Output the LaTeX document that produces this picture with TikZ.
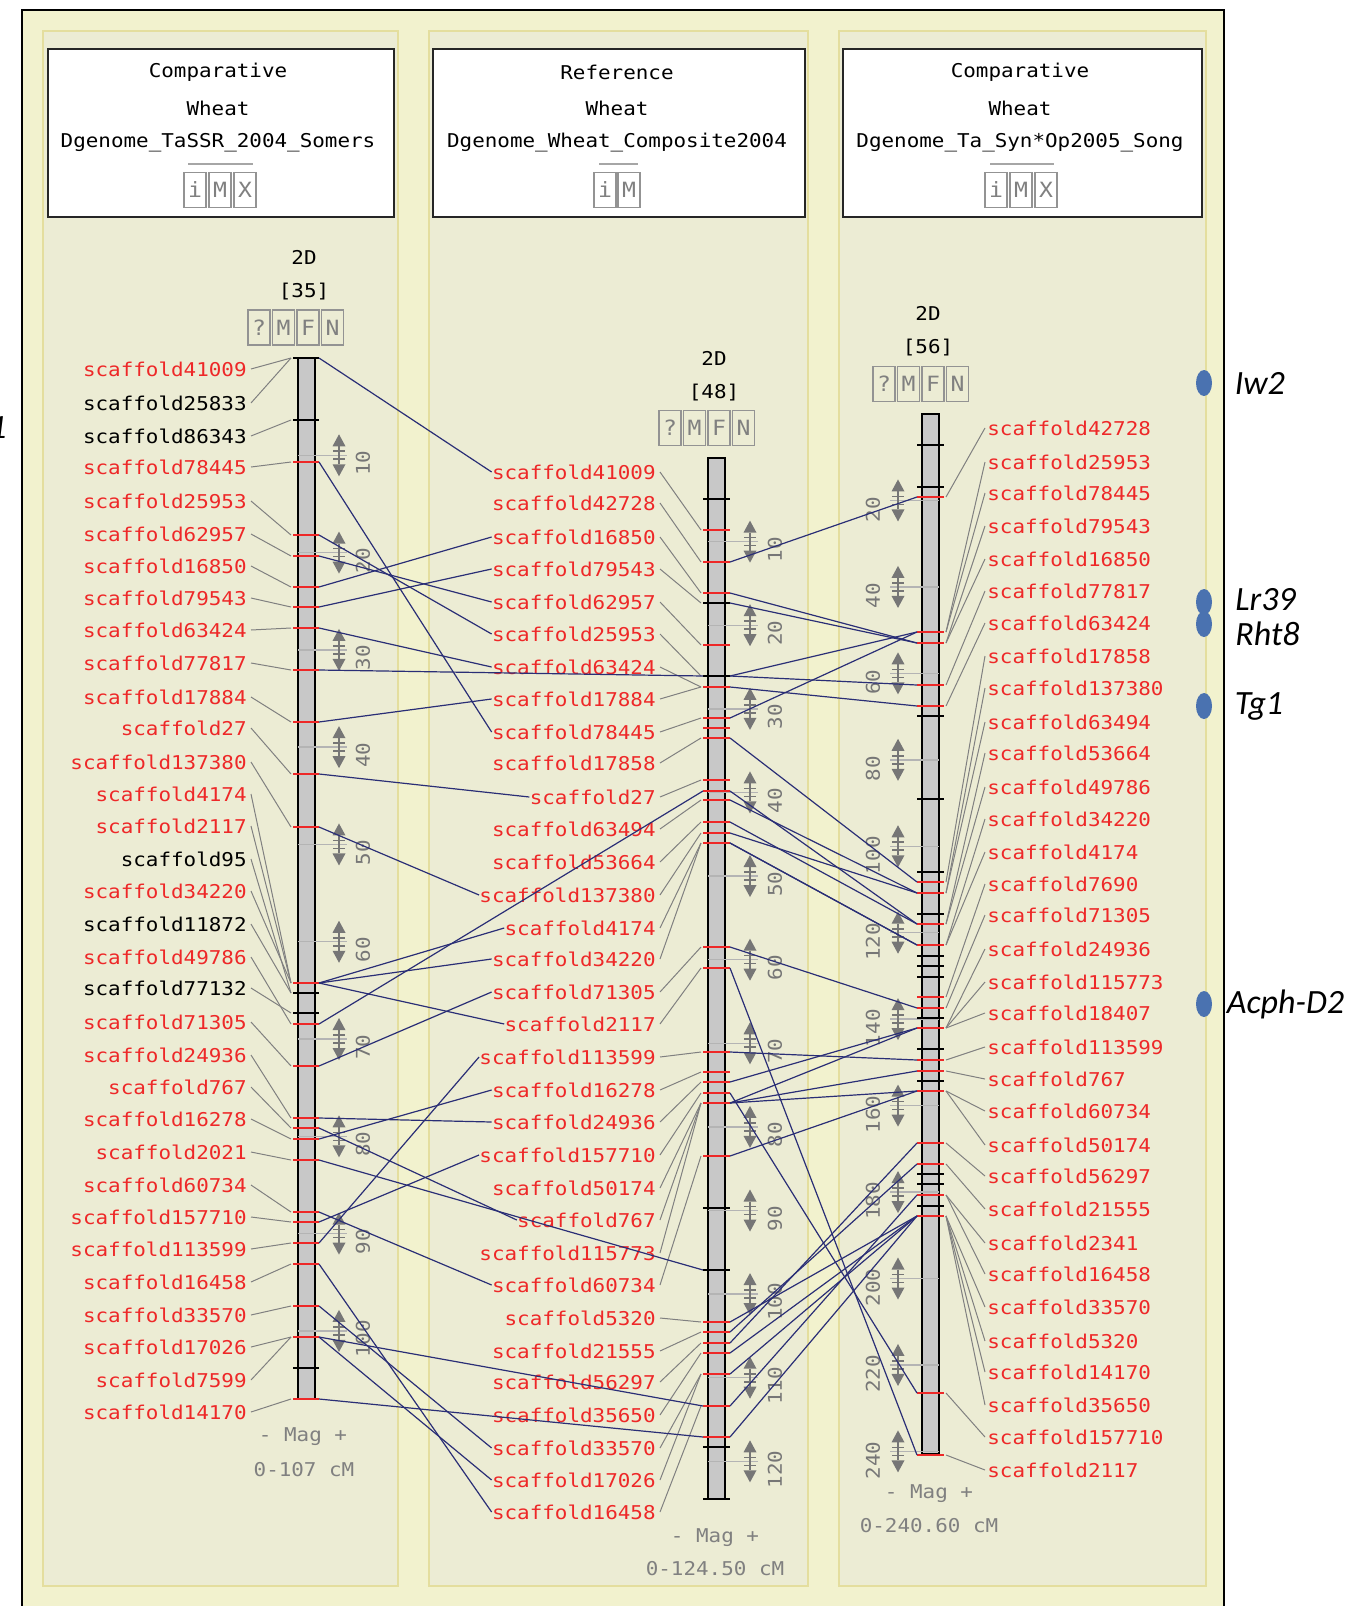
\documentclass[tikz,border=0pt]{standalone}
\usepackage{fontspec}
\newfontfamily\mapfont[FakeStretch=1.1]{DejaVu Sans Mono}
\newfontfamily\genefont{Carlito}
\usetikzlibrary{positioning,shapes.geometric}

\definecolor{outerbg}{RGB}{242,242,206}
\definecolor{panelbg}{RGB}{236,236,212}
\definecolor{panelrule}{RGB}{228,222,158}
\definecolor{mapred}{RGB}{238,40,40}
\definecolor{linkblue}{RGB}{42,46,118}
\definecolor{leadgrey}{RGB}{128,128,128}
\definecolor{rulegrey}{RGB}{118,118,118}
\definecolor{barfill}{RGB}{200,200,200}
\definecolor{dotblue}{RGB}{74,114,176}

\begin{document}
\begin{tikzpicture}[
  x=0.5pt, y=-0.5pt,
  font=\mapfont\fontsize{9.5}{11}\selectfont,
  panel/.style={draw=panelrule,fill=panelbg,line width=1pt},
  headbox/.style={draw=black!85,fill=white,line width=1pt,minimum height=84pt,inner sep=0pt},
  btn/.style={draw=leadgrey!85,line width=0.7pt,minimum width=11pt,minimum height=17.5pt,
              inner sep=0pt,text=leadgrey,font=\mapfont\fontsize{10.5}{11}\selectfont},
  maplabel/.style={inner sep=0pt},
  leader/.style={draw=leadgrey,line width=0.5pt},
  link/.style={draw=linkblue,line width=0.6pt},
  tickmark/.style={line width=1pt},
  rulerline/.style={draw=rulegrey!55,line width=0.7pt},
  chrom/.style={draw=black,fill=barfill,line width=1pt},
  tickno/.style={text=rulegrey,rotate=90,inner sep=0pt},
  greytext/.style={text=leadgrey,inner sep=0pt},
  genedot/.style={ellipse,fill=dotblue,minimum width=8pt,minimum height=13pt,inner sep=0pt},
  gene/.style={font=\genefont\itshape\fontsize{17}{19}\selectfont,anchor=west,inner sep=0pt},
  zoomarrow/.pic={
    \fill[rulegrey] (-6.5,-9) -- (6.5,-9) -- (0,-21) -- cycle;
    \fill[rulegrey] (-6.5,9) -- (6.5,9) -- (0,21) -- cycle;
    \draw[rulegrey,line width=0.8pt] (0,-9) -- (0,9) (-6,-4) -- (6,-4) (-6,4) -- (6,4);
  },
]
\useasboundingbox (0,0) rectangle (1354,1606);
\fill[white] (0,0) rectangle (1354,1606);

%% ============================================================
%% Frame and the three map panels
%% ============================================================
\fill[outerbg] (22,9.5) rectangle (1224,1620);
\draw[line width=1pt] (22,1620) -- (22,9.5) -- (1224,9.5) -- (1224,1620);
\draw[panel] (43,31) rectangle (398,1586);
\draw[panel] (429,31) rectangle (808,1586);
\draw[panel] (839,31) rectangle (1206,1586);

% --- map title boxes ---
\node[headbox,minimum width=173pt] (head1) at (221,133) {};
\node[headbox,minimum width=186pt] (head2) at (619,133) {};
\node[headbox,minimum width=179.5pt] (head3) at (1022.5,133) {};

\node (head1-a) at (218,72)  {Comparative};
\node (head1-b) at (218,108) {Wheat};
\node (head1-c) at (218,143) {Dgenome\_TaSSR\_2004\_Somers};
\node (head2-a) at (617,72)  {Reference};
\node (head2-b) at (617,108) {Wheat};
\node (head2-c) at (617,143) {Dgenome\_Wheat\_Composite2004};
\node (head3-a) at (1020,72)  {Comparative};
\node (head3-b) at (1020,108) {Wheat};
\node (head3-c) at (1020,143) {Dgenome\_Ta\_Syn*Op2005\_Song};

\draw[leadgrey!70,line width=1pt] (188,164) -- (253,164);
\draw[leadgrey!70,line width=1pt] (599,164) -- (638,164);
\draw[leadgrey!70,line width=1pt] (990,164) -- (1054,164);

\foreach \b [count=\k] in {i,M,X}
  \node[btn] (hbtn1-\k) at ({170+25*\k},190) {\b};
\foreach \b [count=\k] in {i,M}
  \node[btn] (hbtn2-\k) at ({581+24*\k},190) {\b};
\foreach \b [count=\k] in {i,M,X}
  \node[btn] (hbtn3-\k) at ({971+25*\k},190) {\b};

% --- chromosome titles ---
\node (chr1-name) at (304,257) {2D};
\node (chr1-num)  at (304,292) {[35]};
\node (chr2-name) at (714,358) {2D};
\node (chr2-num)  at (714,393) {[48]};
\node (chr3-name) at (928,313) {2D};
\node (chr3-num)  at (928,348) {[56]};

\foreach \b [count=\k] in {?,M,F,N} {
  \node[btn] (cbtn1-\k) at ({234.5+24.5*\k},327.5) {\b};
  \node[btn] (cbtn2-\k) at ({645.5+24.5*\k},428) {\b};
  \node[btn] (cbtn3-\k) at ({859.5+24.5*\k},384) {\b};
}

%% ============================================================
%% Chromosome bars with cM rulers
%% ============================================================
\draw[chrom] (298,358) rectangle (315,1399);
\draw[chrom] (708,458) rectangle (725,1499);
\draw[chrom] (922,414) rectangle (939,1454);

\foreach \c in {10,20,...,100} {
  \draw[rulerline] (298,{358+\c*9.729}) -- (347,{358+\c*9.729});
  \pic at (339,{358+\c*9.729}) {zoomarrow};
  \node[tickno] at (363,{366+\c*9.729}) {\c};
}
\foreach \c in {10,20,...,120} {
  \draw[rulerline] (708,{458+\c*8.361}) -- (758,{458+\c*8.361});
  \pic at (750,{458+\c*8.361}) {zoomarrow};
  \node[tickno] at (775,{466+\c*8.361}) {\c};
}
\foreach \c in {20,40,...,240} {
  \draw[rulerline] (939,{414+\c*4.3225}) -- (890,{414+\c*4.3225});
  \pic at (898,{414+\c*4.3225}) {zoomarrow};
  \node[tickno] at (873,{423+\c*4.3225}) {\c};
}

\node[greytext] (mag1) at (303,1437) {- Mag +};
\node[greytext] (rng1) at (304,1470) {0-107 cM};
\node[greytext] (mag2) at (715,1538) {- Mag +};
\node[greytext] (rng2) at (715,1569) {0-124.50 cM};
\node[greytext] (mag3) at (929,1494) {- Mag +};
\node[greytext] (rng3) at (929,1526) {0-240.60 cM};

%% ============================================================
%% Features: name / label y / position y / colour
%% ============================================================
% --- map 1 (labels left of bar) ---
\foreach \n/\ly/\my/\cl in {
  41009/369/358/mapred, 25833/403/358/black, 86343/436/420/black,
  78445/467/462/mapred, 25953/501/535/mapred, 62957/534/556/mapred,
  16850/566/587/mapred, 79543/598/607/mapred, 63424/630/628/mapred,
  77817/663/670/mapred, 17884/697/722/mapred, 27/728/774/mapred,
  137380/762/827/mapred, 4174/794/983/mapred, 2117/826/983/mapred,
  95/859/993/black, 34220/891/983/mapred, 11872/924/993/black,
  49786/957/1024/mapred, 77132/988/1013/black, 71305/1022/1066/mapred,
  24936/1055/1118/mapred, 767/1087/1128/mapred, 16278/1119/1139/mapred,
  2021/1152/1160/mapred, 60734/1185/1212/mapred, 157710/1217/1222/mapred,
  113599/1249/1243/mapred, 16458/1282/1264/mapred, 33570/1315/1306/mapred,
  17026/1347/1337/mapred, 7599/1380/1337/mapred, 14170/1412/1399/mapred} {
  \draw[tickmark,draw=\cl] (293,\my) -- (319,\my);
  \node[maplabel,text=\cl,anchor=east] (l1-\n) at (247,\ly) {scaffold\n};
  \draw[leader] ([xshift=2pt]l1-\n.east) -- (291,\my);
  \coordinate (m1-\n) at (319,\my);
}
\draw[tickmark] (293,1368) -- (319,1368);

% --- map 2 (labels left of bar) ---
\foreach \n/\ly/\my in {
  41009/472/530, 42728/503/562, 16850/537/593, 79543/569/603,
  62957/602/645, 25953/634/676, 63424/667/687, 17884/699/687,
  78445/732/718, 17858/763/738, 27/797/780, 63494/829/800,
  53664/862/822, 137380/895/833, 4174/928/843, 34220/959/843,
  71305/992/947, 2117/1024/968, 113599/1057/1052, 16278/1090/1072,
  24936/1122/1082, 157710/1155/1093, 50174/1188/1103, 767/1220/1103,
  115773/1253/1103, 60734/1285/1156, 5320/1318/1322, 21555/1351/1332,
  56297/1382/1343, 35650/1415/1353, 33570/1448/1374, 17026/1480/1374,
  16458/1512/1406} {
  \draw[tickmark,draw=mapred] (703,\my) -- (730,\my);
  \node[maplabel,text=mapred,anchor=east] (l2-\n) at (656,\ly) {scaffold\n};
  \draw[leader] ([xshift=2pt]l2-\n.east) -- (701,\my);
  \coordinate (m2-\n) at (730,\my);
}
\foreach \y in {728,791,1437}
  \draw[tickmark,draw=mapred] (703,\y) -- (730,\y);
\foreach \y in {499,603,676,1208,1270,1447,1499}
  \draw[tickmark] (703,\y) -- (730,\y);
% unlabelled features of map 2
\foreach \n/\y in {77817/676, 49786/791, 2021/1270, 7599/1406, 14170/1437} {
  \coordinate (h2w-\n) at (703,\y);
  \coordinate (h2e-\n) at (730,\y);
}

% --- map 3 (labels right of bar) ---
\foreach \n/\ly/\my in {
  42728/428/497, 25953/462/632, 78445/493/632, 79543/526/643,
  16850/559/643, 77817/591/685, 63424/623/706, 17858/656/882,
  137380/688/893, 63494/722/893, 53664/753/924, 49786/787/924,
  34220/819/945, 4174/852/945, 7690/884/997, 71305/915/1008,
  24936/949/1028, 115773/982/1028, 18407/1013/1028, 113599/1047/1060,
  767/1079/1071, 60734/1111/1091, 50174/1145/1091, 56297/1176/1143,
  21555/1209/1164, 2341/1243/1195, 16458/1274/1195, 33570/1307/1216,
  5320/1341/1216, 14170/1372/1216, 35650/1405/1216, 157710/1437/1393,
  2117/1470/1455} {
  \draw[tickmark,draw=mapred] (917,\my) -- (944,\my);
  \node[maplabel,text=mapred,anchor=west] (l3-\n) at (987,\ly) {scaffold\n};
  \draw[leader] ([xshift=-1pt]l3-\n.west) -- (946,\my);
  \coordinate (m3-\n) at (917,\my);
}
\foreach \y in {445,487,716,799,872,914,956,966,977,1018,1049,1081,1174,1184,1206}
  \draw[tickmark] (917,\y) -- (944,\y);

%% ============================================================
%% Correspondences
%% ============================================================
\foreach \n in {41009,78445,25953,62957,16850,79543,63424,17884,27,137380,4174,
                2117,34220,71305,24936,767,16278,60734,157710,113599,16458,33570,17026}
  \draw[link] (m1-\n) -- (l2-\n.west);
\foreach \n in {77817,49786,2021,7599,14170}
  \draw[link] (m1-\n) -- (h2w-\n);
\foreach \n in {42728,25953,78445,79543,16850,63424,17858,137380,63494,53664,34220,
                4174,71305,24936,115773,113599,767,60734,50174,56297,21555,16458,
                33570,5320,35650,157710,2117}
  \draw[link] (m2-\n) -- (m3-\n);
\foreach \n in {77817,49786,14170}
  \draw[link] (h2e-\n) -- (m3-\n);

%% ============================================================
%% Trait loci beside map 3
%% ============================================================
\node[genedot] (dot-iw2)  at (1204,383)  {};
\node[genedot] (dot-lr39) at (1204,602)  {};
\node[genedot] (dot-rht8) at (1204,624)  {};
\node[genedot] (dot-tg1)  at (1204,706)  {};
\node[genedot] (dot-acph) at (1204,1004) {};

\node[gene,right=11pt of dot-iw2] (gene-iw2) {Iw2};
\node[gene] (gene-lr39) at (1235,600) {Lr39};
\node[gene] (gene-rht8) at (1235,634) {Rht8};
\node[gene,right=11pt of dot-tg1] (gene-tg1) {Tg1};
\node[gene,right=7pt of dot-acph] (gene-acph) {Acph-D2};
\node[gene,anchor=east] (gene-cut) at (7,428) {1};

\end{tikzpicture}
\end{document}
